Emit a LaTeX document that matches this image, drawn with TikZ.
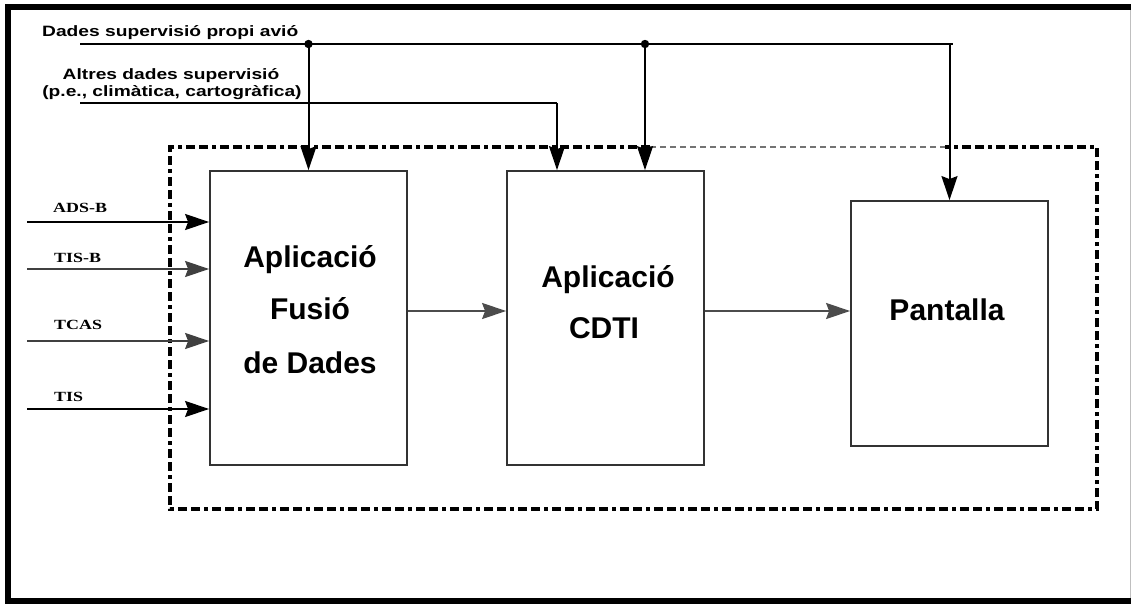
\documentclass[tikz,border=0pt]{standalone}
\usepackage{fontspec}
\setmainfont{Liberation Sans}
\newfontfamily\topfont{Liberation Sans}[FakeStretch=1.28]
\newfontfamily\serfont{Liberation Serif}[FakeStretch=1.28]
\usetikzlibrary{arrows.meta}
\begin{document}
\begin{tikzpicture}[x=1pt,y=-1pt,
  blk/.style={draw=black!80, line width=1.8pt, rectangle, minimum width=197pt, inner sep=0pt},
  arr/.style={line width=2pt, -{Stealth[length=24pt,width=16pt,inset=3pt]}},
  ln/.style={line width=2pt},
  big/.style={font=\fontsize{30}{36}\selectfont\bfseries, anchor=base, inner sep=0pt},
  lab/.style={font=\topfont\fontsize{15}{17}\selectfont\bfseries, anchor=base west, inner sep=0pt},
  slab/.style={font=\serfont\fontsize{14}{16}\selectfont\bfseries, anchor=base west, inner sep=0pt},
  dashframe/.style={line width=4pt, dash pattern=on 9pt off 4pt on 9pt off 4pt on 4pt off 4pt},
]
\useasboundingbox (0,0) rectangle (1131,604);
% outer frame
\fill[black] (5,4) rectangle (11,604);
\fill[black] (5,4) rectangle (1131,10);
\fill[black] (5,598) rectangle (1131,604);
\draw[black!25, line width=1pt] (1130,10) -- (1130,598);

% dashed frame
\draw[dashframe] (650,147) -- (170,147) -- (170,509) -- (1097,509) -- (1097,147) -- (945,147);
\draw[black!55, line width=1.5pt, dash pattern=on 6pt off 4pt] (650,147) -- (945,147);

% blocks
\node[blk, minimum height=294pt] (b1) at (308.5,318) {};
\node[blk, minimum height=294pt] (b2) at (605.5,318) {};
\node[blk, minimum height=245pt] (b3) at (949.5,323.5) {};

\node[big] (t1a) at (310,267) {Aplicació};
\node[big] (t1b) at (310,319) {Fusió};
\node[big] (t1c) at (310,373) {de Dades};
\node[big] (t2a) at (608,287) {Aplicació};
\node[big] (t2b) at (604,338) {CDTI};
\node[big] (t3) at (947,320) {Pantalla};

% top labels and lines
\node[lab] (l1) at (42,37) {Dades supervisió propi avió};
\node[lab, anchor=base] (l2) at (171,80) {Altres dades supervisió};
\node[lab, anchor=base] (l3) at (172,97) {(p.e., climàtica, cartogràfica)};

\coordinate (s1) at (80,44);
\coordinate (e1) at (953,44);
\coordinate (j1) at (308.5,44);
\coordinate (j2) at (645,44);
\coordinate (j3) at (949.5,44);
\coordinate (s2) at (80,103);
\coordinate (k2) at (557,103);

\draw[ln] (s1) -- (e1);
\draw[arr] (j1) -- (b1.north);
\draw[arr] (j2) -- (j2 |- b2.north);
\draw[arr] (j3) -- (b3.north);
\fill (j1) circle (4.2pt);
\fill (j2) circle (4.2pt);
\draw[ln] (s2) -- (k2);
\draw[arr] (k2) -- (k2 |- b2.north);

% inputs
\coordinate (i1) at (27,222);
\coordinate (i2) at (27,269);
\coordinate (i3) at (27,341);
\coordinate (i4) at (27,409);
\draw[arr] (i1) -- (i1 -| b1.west);
\draw[arr, black!75] (i2) -- (i2 -| b1.west);
\draw[arr, black!75] (i3) -- (i3 -| b1.west);
\draw[arr] (i4) -- (i4 -| b1.west);
\node[slab] (a1) at (53,212) {ADS-B};
\node[slab] (a2) at (54,262) {TIS-B};
\node[slab] (a3) at (54,329) {TCAS};
\node[slab] (a4) at (54,401) {TIS};

% block connectors
\draw[arr, black!70] ([yshift=7pt]b1.east) -- ([yshift=7pt]b2.west);
\draw[arr, black!70] ([yshift=7pt]b2.east) -- ([yshift=7pt]b2.east -| b3.west);
\end{tikzpicture}
\end{document}
